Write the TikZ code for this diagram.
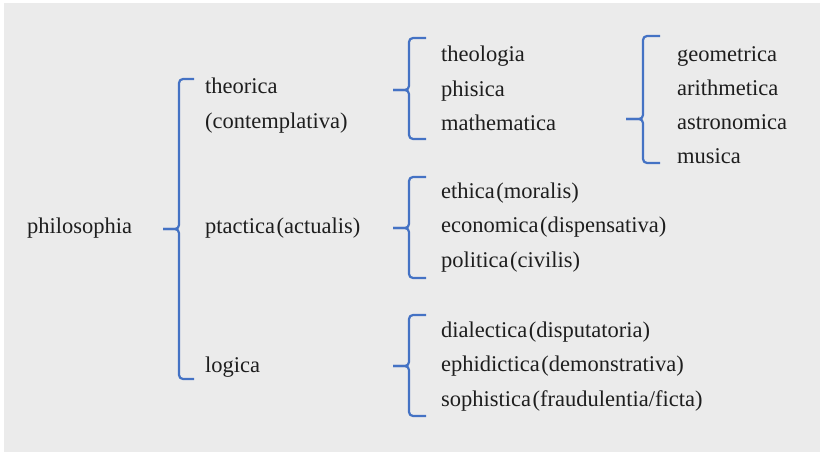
\documentclass[tikz,border=0pt]{standalone}
\usepackage{fontspec}
\setmainfont{Liberation Serif}
\definecolor{paper}{HTML}{EBEBEB}
\definecolor{braceblue}{HTML}{4472C4}
\definecolor{ink}{HTML}{1E1E1E}
\begin{document}
\begin{tikzpicture}[x=1pt,y=-1pt]

    \tikzset{
      term/.style={
        anchor=base west,
        inner sep=0pt,
        text=ink,
        font=\fontsize{22.5}{26}\selectfont,
      },
      brace/.style={
        color=braceblue,
        line width=2.2pt,
        rounded corners=4pt,
      },
    }
    \useasboundingbox (0,0) rectangle (820,452);
    \fill[paper] (4,3) rectangle (820,452);

	% root and first level
	\node[term] (philosophia) at (27,233) {philosophia};
	\node[term] (theorica) at (205,94) {theorica};
	\node[term] (contemplativa) at (205,128.5) {(contemplativa)};
	\node[term] (ptactica) at (205,233) {ptactica\kern1.5pt(actualis)};
	\node[term] (logica) at (205,372) {logica};

	% theorica
	\node[term] (theologia) at (441,61.5) {theologia};
	\node[term] (phisica) at (441,96) {phisica};
	\node[term] (mathematica) at (441,130.5) {mathematica};
	\node[term] (geometrica) at (677,61.5) {geometrica};
	\node[term] (arithmetica) at (677,95.5) {arithmetica};
	\node[term] (astronomica) at (677,129.5) {astronomica};
	\node[term] (musica) at (677,163.5) {musica};

	% ptactica
	\node[term] (ethica) at (441,198) {ethica\kern1.5pt(moralis)};
	\node[term] (economica) at (441,232.5) {economica\kern1.5pt(dispensativa)};
	\node[term] (politica) at (441,267) {politica\kern1.5pt(civilis)};

	% logica
	\node[term] (dialectica) at (441,337) {dialectica\kern1.5pt(disputatoria)};
	\node[term] (ephidictica) at (441,371.5) {ephidictica\kern1.5pt(demonstrativa)};
	\node[term] (sophistica) at (441,406) {sophistica\kern1.5pt(fraudulentia/ficta)};

	% brace ends
	\coordinate (philosophia-tip) at (163,229);
	\coordinate (philosophia-top) at (194,79);
	\coordinate (philosophia-bot) at (194,379);
	\coordinate (theorica-tip) at (393,90);
	\coordinate (theorica-top) at (426,38);
	\coordinate (theorica-bot) at (426,139);
	\coordinate (mathematica-tip) at (626,119);
	\coordinate (mathematica-top) at (660,36);
	\coordinate (mathematica-bot) at (660,163);
	\coordinate (ptactica-tip) at (393,228);
	\coordinate (ptactica-top) at (426,177);
	\coordinate (ptactica-bot) at (426,278);
	\coordinate (logica-tip) at (393,366);
	\coordinate (logica-top) at (426,315);
	\coordinate (logica-bot) at (426,416);

	\foreach \b/\w in {philosophia/16,theorica/16,mathematica/17,ptactica/16,logica/16}{
	  \draw[brace] (\b-tip) -- ++(\w,0) |- (\b-top);
	  \draw[brace] (\b-tip) -- ++(\w,0) |- (\b-bot);
	}

\end{tikzpicture}
\end{document}
